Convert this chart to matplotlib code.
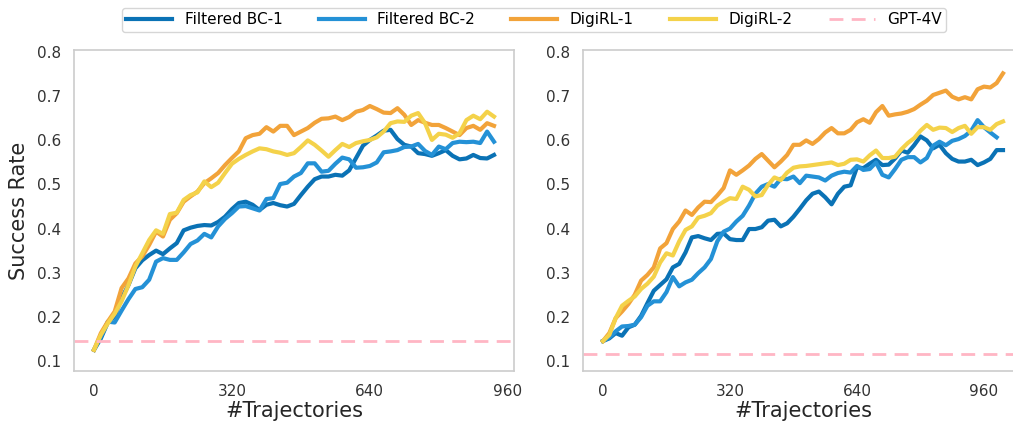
import numpy as np
import matplotlib
matplotlib.use('Agg')
import matplotlib.pyplot as plt

# x grid: one point every 16 trajectories
x_left = np.arange(0, 929, 16)      # 59 points
x_right = np.arange(0, 1009, 16)    # 64 points

# ---- left panel ----
bc1_left = [0.125, 0.151, 0.187, 0.201, 0.242, 0.272, 0.310, 0.328, 0.340, 0.350,
            0.342, 0.355, 0.367, 0.396, 0.402, 0.406, 0.408, 0.407, 0.415, 0.427,
            0.444, 0.458, 0.461, 0.454, 0.442, 0.454, 0.458, 0.453, 0.450, 0.456,
            0.476, 0.495, 0.512, 0.518, 0.518, 0.522, 0.520, 0.532, 0.560, 0.588,
            0.601, 0.611, 0.622, 0.624, 0.603, 0.590, 0.586, 0.571, 0.569, 0.565,
            0.571, 0.578, 0.565, 0.557, 0.559, 0.567, 0.560, 0.559, 0.567]
bc2_left = [0.125, 0.155, 0.189, 0.187, 0.214, 0.240, 0.263, 0.267, 0.284, 0.325,
            0.333, 0.329, 0.329, 0.346, 0.365, 0.373, 0.388, 0.380, 0.405, 0.422,
            0.435, 0.450, 0.451, 0.446, 0.441, 0.467, 0.469, 0.501, 0.504, 0.518,
            0.526, 0.548, 0.548, 0.529, 0.531, 0.547, 0.561, 0.557, 0.538, 0.539,
            0.542, 0.550, 0.573, 0.575, 0.578, 0.585, 0.586, 0.592, 0.576, 0.567,
            0.586, 0.580, 0.594, 0.597, 0.596, 0.597, 0.594, 0.620, 0.597]
digi1_left = [0.125, 0.163, 0.189, 0.212, 0.265, 0.287, 0.321, 0.337, 0.363, 0.393,
              0.382, 0.420, 0.435, 0.461, 0.473, 0.484, 0.503, 0.514, 0.526, 0.544,
              0.560, 0.575, 0.605, 0.612, 0.615, 0.630, 0.620, 0.633, 0.633, 0.612,
              0.620, 0.628, 0.640, 0.649, 0.650, 0.654, 0.646, 0.653, 0.665, 0.669,
              0.678, 0.671, 0.663, 0.662, 0.673, 0.658, 0.635, 0.646, 0.640, 0.635,
              0.635, 0.628, 0.620, 0.612, 0.628, 0.633, 0.624, 0.639, 0.633]
digi2_left = [0.125, 0.159, 0.185, 0.207, 0.235, 0.272, 0.314, 0.344, 0.374, 0.396,
              0.388, 0.433, 0.436, 0.465, 0.476, 0.482, 0.507, 0.494, 0.504, 0.526,
              0.547, 0.558, 0.567, 0.575, 0.582, 0.580, 0.575, 0.572, 0.567, 0.571,
              0.585, 0.600, 0.590, 0.577, 0.563, 0.578, 0.592, 0.585, 0.594, 0.598,
              0.601, 0.607, 0.620, 0.639, 0.643, 0.642, 0.656, 0.662, 0.639, 0.601,
              0.615, 0.613, 0.606, 0.616, 0.646, 0.656, 0.648, 0.665, 0.654]
gpt_left = 0.146

# ---- right panel ----
bc1_right = [0.145, 0.151, 0.163, 0.157, 0.176, 0.182, 0.202, 0.231, 0.259, 0.272,
             0.285, 0.312, 0.320, 0.346, 0.380, 0.383, 0.378, 0.374, 0.388, 0.389,
             0.376, 0.374, 0.374, 0.399, 0.399, 0.403, 0.418, 0.420, 0.405, 0.412,
             0.427, 0.445, 0.464, 0.479, 0.484, 0.471, 0.455, 0.479, 0.495, 0.498,
             0.539, 0.537, 0.547, 0.556, 0.544, 0.545, 0.559, 0.577, 0.572, 0.589,
             0.609, 0.600, 0.582, 0.590, 0.571, 0.558, 0.552, 0.552, 0.556, 0.544,
             0.550, 0.558, 0.578, 0.578]
bc2_right = [0.145, 0.153, 0.167, 0.178, 0.179, 0.182, 0.199, 0.225, 0.235, 0.235,
             0.256, 0.290, 0.269, 0.278, 0.284, 0.299, 0.312, 0.331, 0.371, 0.393,
             0.400, 0.416, 0.429, 0.452, 0.479, 0.495, 0.501, 0.495, 0.513, 0.512,
             0.518, 0.503, 0.520, 0.518, 0.516, 0.509, 0.520, 0.526, 0.529, 0.527,
             0.542, 0.533, 0.535, 0.550, 0.522, 0.516, 0.535, 0.556, 0.562, 0.562,
             0.550, 0.560, 0.588, 0.597, 0.589, 0.599, 0.603, 0.610, 0.622, 0.646,
             0.630, 0.618, 0.607]
digi1_right = [0.145, 0.163, 0.197, 0.212, 0.229, 0.250, 0.282, 0.295, 0.312, 0.355,
               0.367, 0.399, 0.416, 0.441, 0.431, 0.448, 0.461, 0.460, 0.475, 0.492,
               0.532, 0.522, 0.532, 0.543, 0.558, 0.569, 0.554, 0.539, 0.552, 0.567,
               0.590, 0.590, 0.600, 0.592, 0.603, 0.618, 0.628, 0.616, 0.616, 0.624,
               0.641, 0.648, 0.640, 0.664, 0.678, 0.656, 0.659, 0.661, 0.665, 0.671,
               0.681, 0.690, 0.703, 0.708, 0.713, 0.699, 0.693, 0.698, 0.693, 0.716,
               0.722, 0.720, 0.730, 0.752]
digi2_right = [0.145, 0.159, 0.197, 0.225, 0.236, 0.246, 0.263, 0.275, 0.291, 0.323,
               0.344, 0.339, 0.371, 0.397, 0.405, 0.425, 0.429, 0.435, 0.452, 0.461,
               0.469, 0.467, 0.495, 0.488, 0.473, 0.476, 0.499, 0.516, 0.510, 0.527,
               0.538, 0.541, 0.542, 0.544, 0.546, 0.548, 0.550, 0.544, 0.547, 0.556,
               0.557, 0.552, 0.566, 0.577, 0.560, 0.560, 0.563, 0.580, 0.594, 0.605,
               0.622, 0.635, 0.624, 0.629, 0.628, 0.619, 0.628, 0.633, 0.615, 0.630,
               0.630, 0.624, 0.637, 0.643]
gpt_right = 0.115

labels = ["Filtered BC-1", "Filtered BC-2", "DigiRL-1", "DigiRL-2", "GPT-4V"]
colors = ["#0a72b5", "#2491d6", "#f2a33a", "#f4d24a", "#ffb6c4"]

plt.rcParams['font.family'] = 'DejaVu Sans'

fig = plt.figure(figsize=(10.13, 4.29), dpi=100)
ax1 = fig.add_axes([74 / 1013, 58 / 429, 440 / 1013, 321 / 429])
ax2 = fig.add_axes([583 / 1013, 58 / 429, 440 / 1013, 321 / 429])

panels = [
    (ax1, x_left, [bc1_left, bc2_left, digi1_left, digi2_left], gpt_left),
    (ax2, x_right, [bc1_right, bc2_right, digi1_right, digi2_right], gpt_right),
]

for ax, xs, series, gpt in panels:
    for ys, lab, col in zip(series, labels[:4], colors[:4]):
        ax.plot(xs[:len(ys)], ys, color=col, lw=3, label=lab)
    ax.axhline(gpt, color=colors[4], ls='--', lw=2, dashes=(5, 3), label=labels[4])
    ax.set_ylim(0.077, 0.805)
    ax.set_xticks([0, 320, 640, 960])
    ax.set_yticks([0.1, 0.2, 0.3, 0.4, 0.5, 0.6, 0.7, 0.8])
    ax.set_yticklabels([f"{v:.1f}" for v in ax.get_yticks()])
    ax.tick_params(length=0, pad=9, labelsize=11, colors='#333333')
    ax.set_xlabel("#Trajectories", fontsize=15, color='#262626', labelpad=2)
    for sp in ax.spines.values():
        sp.set_color('#cccccc')
        sp.set_linewidth(1.2)

ax1.set_ylabel("Success Rate", fontsize=15, color='#262626', labelpad=6)

handles, labs = ax1.get_legend_handles_labels()
fig.legend(handles, labs, loc='upper center', bbox_to_anchor=(534 / 1013, 1.0),
           ncol=5, fontsize=11, frameon=True, edgecolor='#cccccc',
           handlelength=3, columnspacing=2.4, borderpad=0.3)

fig.savefig("out.png", dpi=100)
